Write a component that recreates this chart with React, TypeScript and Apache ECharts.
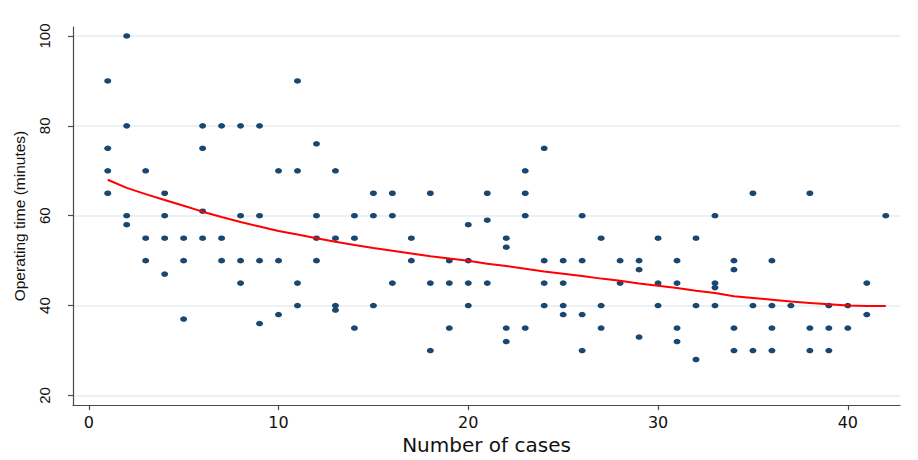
import React, { useEffect, useRef } from "react";
import * as echarts from "echarts";

// Case number (1..42) and the operating times recorded for that case
const caseNumbers = [
  1, 2, 3, 4, 5, 6, 7, 8, 9, 10, 11, 12, 13, 14, 15, 16, 17, 18, 19, 20, 21,
  22, 23, 24, 25, 26, 27, 28, 29, 30, 31, 32, 33, 34, 35, 36, 37, 38, 39, 40,
  41, 42,
];

const timesByCase: number[][] = [
  [90, 75, 70, 65],
  [100, 80, 60, 58],
  [70, 55, 50],
  [65, 60, 55, 47],
  [55, 50, 37],
  [80, 75, 61, 55],
  [80, 55, 50],
  [80, 60, 50, 45],
  [80, 60, 50, 36],
  [70, 50, 38],
  [90, 70, 45, 40],
  [76, 60, 55, 50],
  [70, 55, 40, 39],
  [60, 55, 35],
  [65, 60, 40],
  [65, 60, 45],
  [55, 50],
  [65, 45, 30],
  [50, 45, 35],
  [58, 50, 45, 40],
  [65, 59, 45],
  [55, 53, 35, 32],
  [70, 65, 60, 35],
  [75, 50, 45, 40],
  [50, 45, 40, 38],
  [60, 50, 38, 30],
  [55, 40, 35],
  [50, 45],
  [50, 48, 33],
  [55, 45, 40],
  [50, 45, 35, 32],
  [55, 40, 28],
  [60, 45, 44, 40],
  [50, 48, 35, 30],
  [65, 40, 30],
  [50, 40, 35, 30],
  [40],
  [65, 35, 30],
  [40, 35, 30],
  [40, 35],
  [45, 38],
  [60],
];

// Fitted operating time at each case number
const fittedTime = [
  68.0, 66.2, 64.8, 63.5, 62.2, 60.9, 59.7, 58.6, 57.6, 56.6, 55.8, 55.0,
  54.2, 53.5, 52.8, 52.2, 51.6, 51.0, 50.5, 50.0, 49.3, 48.8, 48.2, 47.6,
  47.1, 46.6, 46.0, 45.5, 44.9, 44.4, 43.9, 43.3, 42.8, 42.1, 41.7, 41.3,
  40.9, 40.6, 40.3, 40.0, 39.9, 39.9,
];

const xTicks = [0, 10, 20, 30, 40];
const yTicks = [20, 40, 60, 80, 100];

const FONT = "'Liberation Sans', Arial, sans-serif";
const WIDE_FONT = "'DejaVu Sans', 'Liberation Sans', sans-serif";
const AXIS_COLOR = "#4a4a4a";

export default function App() {
  const ref = useRef<HTMLDivElement>(null);

  useEffect(() => {
    if (!ref.current) return;
    const chart = echarts.init(ref.current, null, { renderer: "svg" });

    const points: number[][] = [];
    caseNumbers.forEach((c, i) => {
      timesByCase[i].forEach((t) => points.push([c, t]));
    });
    const fitLine = caseNumbers.map((c, i) => [c, fittedTime[i]]);

    chart.setOption({
      animation: false,
      backgroundColor: "#ffffff",
      grid: { left: 73, right: 18, top: 27, bottom: 54, containLabel: false },
      xAxis: {
        type: "value",
        min: -0.83,
        max: 42.75,
        name: "Number of cases",
        nameLocation: "middle",
        nameGap: 22,
        nameTextStyle: { fontFamily: WIDE_FONT, fontSize: 20, color: "#111" },
        axisLine: { show: true, onZero: false, lineStyle: { color: AXIS_COLOR, width: 1.2 } },
        axisTick: {
          show: true,
          length: 5,
          customValues: xTicks,
          lineStyle: { color: AXIS_COLOR, width: 1.2 },
        },
        axisLabel: {
          customValues: xTicks,
          fontFamily: WIDE_FONT,
          fontSize: 16,
          color: "#111",
          margin: 9,
        },
        splitLine: { show: false },
      },
      yAxis: {
        type: "value",
        min: 17.85,
        max: 102,
        name: "Operating time (minutes)",
        nameLocation: "middle",
        nameGap: 46,
        nameTextStyle: { fontFamily: FONT, fontSize: 15.5, color: "#111" },
        axisLine: { show: true, onZero: false, lineStyle: { color: AXIS_COLOR, width: 1.2 } },
        axisTick: {
          show: true,
          length: 5,
          customValues: yTicks,
          lineStyle: { color: AXIS_COLOR, width: 1.2 },
        },
        axisLabel: {
          customValues: yTicks,
          rotate: 90,
          fontFamily: FONT,
          fontSize: 15,
          color: "#111",
          margin: 21,
        },
        splitLine: {
          show: true,
          lineStyle: { color: "#e6eef0", width: 1.5 },
        },
      },
      series: [
        {
          type: "scatter",
          data: points,
          symbol: "circle",
          symbolSize: [7, 5.5],
          itemStyle: { color: "#1a476f", opacity: 1 },
          z: 2,
        },
        {
          type: "line",
          data: fitLine,
          showSymbol: false,
          smooth: false,
          lineStyle: { color: "#ff0000", width: 2 },
          z: 3,
        },
      ],
    });

    return () => chart.dispose();
  }, []);

  return (
    <div
      ref={ref}
      style={{
        position: "fixed",
        left: 0,
        top: 0,
        width: 918,
        height: 460,
        background: "#ffffff",
      }}
    />
  );
}
